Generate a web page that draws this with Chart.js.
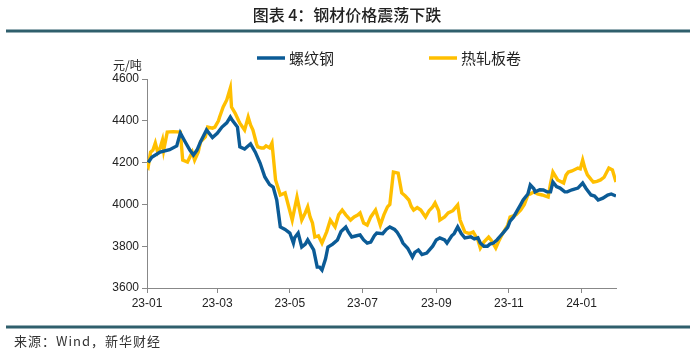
<!DOCTYPE html>
<html>
<head>
<meta charset="utf-8">
<script src="https://cdn.jsdelivr.net/npm/chart.js@4"></script>
<style>
    html, body { margin: 0; padding: 0; background: #fff; }
    .chart { position: relative; width: 694px; height: 354px; }
</style>
</head>
<body>
<div class="chart">
    <canvas id="myChart" width="694" height="354"></canvas>
</div>
<script>
    // x = days since 2023-01-01
    const tickDays = [0, 59, 120, 181, 243, 304, 365];
    const tickLabels = ['23-01', '23-03', '23-05', '23-07', '23-09', '23-11', '24-01'];

    const rebarDays = [1, 4, 11, 19, 25, 28, 32, 36, 39, 42, 45, 50, 55, 59, 63, 67, 70, 72, 76, 78,
        82, 87, 91, 95, 99, 103, 106, 109, 112, 116, 120, 123, 124, 127, 130, 133, 135, 140, 143, 145,
        147, 150, 152, 156, 160, 163, 167, 169, 172, 176, 179, 182, 185, 188, 191, 193, 198, 201, 204, 208,
        210, 213, 215, 219, 223, 225, 228, 231, 235, 240, 243, 246, 250, 252, 256, 258, 261, 264, 267, 272,
        275, 278, 280, 283, 286, 288, 291, 294, 297, 299, 303, 305, 308, 311, 314, 316, 320, 322, 325, 326,
        330, 333, 336, 339, 341, 344, 347, 351, 353, 357, 362, 366, 369, 373, 376, 379, 383, 387, 390, 394];
    const rebar = [4200, 4225, 4250, 4262, 4280, 4342, 4300, 4260, 4236, 4260, 4300, 4356, 4320, 4340, 4370, 4390, 4418, 4400, 4370, 4275,
        4265, 4290, 4250, 4198, 4131, 4095, 4083, 4021, 3892, 3880, 3863, 3815, 3840, 3863, 3796, 3810, 3830, 3782, 3700, 3700,
        3686, 3740, 3796, 3810, 3830, 3870, 3892, 3870, 3844, 3850, 3854, 3830, 3815, 3820, 3850, 3863, 3860, 3880, 3892, 3880,
        3868, 3840, 3815, 3790, 3748, 3770, 3782, 3760, 3767, 3800, 3830, 3840, 3830, 3815, 3850, 3860, 3892, 3860, 3840, 3845,
        3835, 3840, 3815, 3800, 3800, 3810, 3815, 3830, 3850, 3863, 3890, 3920, 3940, 3970, 4000, 4021, 4050, 4093, 4075, 4060,
        4070, 4069, 4060, 4060, 4107, 4085, 4078, 4060, 4060, 4070, 4078, 4102, 4075, 4045, 4040, 4021, 4030, 4045, 4050, 4040];

    const coilDays = [0, 1, 3, 5, 7, 9, 11, 13, 14, 17, 22, 28, 30, 34, 38, 40, 43, 45, 49, 51,
        55, 57, 60, 61, 64, 67, 70, 71, 74, 77, 78, 82, 85, 87, 89, 92, 93, 96, 98, 100,
        103, 105, 108, 112, 116, 119, 122, 126, 130, 133, 135, 137, 139, 141, 144, 147, 151, 154, 158, 161,
        164, 167, 171, 174, 177, 179, 182, 185, 188, 192, 196, 199, 202, 204, 207, 211, 214, 217, 220, 222,
        224, 227, 230, 234, 237, 240, 242, 245, 246, 250, 253, 257, 261, 263, 267, 271, 274, 278, 280, 283,
        287, 289, 293, 296, 299, 303, 305, 310, 314, 317, 320, 322, 325, 328, 332, 337, 339, 341, 345, 350,
        352, 354, 357, 362, 364, 366, 368, 370, 373, 375, 378, 381, 384, 388, 391, 394];
    const coil = [4188, 4180, 4250, 4260, 4294, 4250, 4270, 4308, 4260, 4346, 4348, 4346, 4212, 4203, 4250, 4212, 4250, 4300, 4323, 4370,
        4365, 4370, 4400, 4418, 4466, 4500, 4557, 4466, 4437, 4400, 4389, 4356, 4418, 4380, 4356, 4290, 4275, 4270, 4270, 4280,
        4270, 4294, 4117, 4045, 4055, 3990, 3925, 4035, 3925, 3960, 3988, 3940, 3911, 3844, 3850, 3815, 3870, 3925, 3892, 3950,
        3973, 3950, 3925, 3940, 3949, 3959, 3911, 3901, 3940, 3973, 3901, 3950, 3988, 4000, 4155, 4150, 4055, 4040, 4021, 3990,
        3973, 3985, 3973, 3940, 3970, 3988, 4007, 3970, 3925, 3940, 3959, 3970, 3997, 3925, 3868, 3860, 3868, 3830, 3791, 3820,
        3844, 3830, 3791, 3830, 3863, 3900, 3940, 3950, 3973, 4000, 4045, 4050, 4060, 4050, 4045, 4035, 4100, 4155, 4117, 4102,
        4140, 4155, 4160, 4174, 4170, 4212, 4170, 4141, 4120, 4107, 4110, 4117, 4130, 4174, 4165, 4107];

    const FONT = 'Arial, "Liberation Sans", "Noto Sans CJK SC", sans-serif';
    const CJK = '"Noto Sans CJK SC", sans-serif';

    // title, rules, legend, unit and source drawn around the plot
    const frame = {
        id: 'frame',
        afterDraw(chart) {
            const ctx = chart.ctx;
            const area = chart.chartArea;
            ctx.save();
            ctx.fillStyle = '#222';
            ctx.font = '500 16px ' + CJK;
            ctx.textAlign = 'center';
            ctx.textBaseline = 'middle';
            ctx.fillText('图表 4：钢材价格震荡下跌', 347, 15);

            ctx.strokeStyle = '#2f5f6c';
            ctx.lineWidth = 3;
            ctx.beginPath();
            ctx.moveTo(6, 31); ctx.lineTo(690, 31);
            ctx.moveTo(6, 327); ctx.lineTo(690, 327);
            ctx.stroke();

            ctx.textAlign = 'left';
            ctx.font = '13px ' + CJK;
            ctx.fillStyle = '#333';
            ctx.letterSpacing = '1px';
            ctx.fillText('来源：Wind，新华财经', 14, 341);
            ctx.letterSpacing = '0px';

            ctx.font = '12px ' + CJK;
            ctx.fillStyle = '#222';
            ctx.fillText('元/吨', area.left - 34, area.top - 14);

            // legend
            const legendX = [257, 429];
            ctx.font = '15px ' + CJK;
            chart.data.datasets.forEach((ds, i) => {
                const x = legendX[i];
                ctx.strokeStyle = ds.borderColor;
                ctx.lineWidth = 3.5;
                ctx.beginPath();
                ctx.moveTo(x, 58); ctx.lineTo(x + 28, 58);
                ctx.stroke();
                ctx.fillStyle = '#222';
                ctx.fillText(ds.label, x + 32, 58);
            });
            ctx.restore();
        }
    };

    const ctx = document.getElementById('myChart').getContext('2d');
    const myChart = new Chart(ctx, {
        type: 'line',
        data: {
            datasets: [
                {
                    label: '螺纹钢',
                    data: rebarDays.map((d, i) => ({ x: d, y: rebar[i] })),
                    borderColor: '#0b5b96',
                    borderWidth: 3.4,
                    pointRadius: 0,
                    tension: 0,
                    fill: false
                },
                {
                    label: '热轧板卷',
                    data: coilDays.map((d, i) => ({ x: d, y: coil[i] })),
                    borderColor: '#ffbf00',
                    borderWidth: 3.4,
                    pointRadius: 0,
                    tension: 0,
                    fill: false
                }
            ]
        },
        options: {
            responsive: false,
            animation: false,
            layout: { padding: { left: 0, right: 78, top: 79, bottom: 36 } },
            plugins: { legend: { display: false }, tooltip: { enabled: false } },
            scales: {
                x: {
                    type: 'linear',
                    min: 0,
                    max: 394,
                    afterFit(scale) { scale.height = 30; },
                    afterBuildTicks(scale) { scale.ticks = tickDays.map(v => ({ value: v })); },
                    ticks: {
                        autoSkip: false,
                        maxRotation: 0,
                        padding: 3,
                        color: '#222',
                        font: { size: 12, family: FONT },
                        callback: (v) => tickLabels[tickDays.indexOf(v)]
                    },
                    grid: { drawOnChartArea: false, drawTicks: true, tickLength: 5, color: '#888' },
                    border: { color: '#888', width: 1 }
                },
                y: {
                    min: 3600,
                    max: 4600,
                    afterFit(scale) { scale.width = 147; },
                    ticks: {
                        stepSize: 200,
                        padding: 3,
                        color: '#222',
                        font: { size: 12, family: FONT },
                        callback: (v) => String(v)
                    },
                    grid: { drawOnChartArea: false, drawTicks: true, tickLength: 5, color: '#888' },
                    border: { color: '#888', width: 1 }
                }
            }
        },
        plugins: [frame]
    });
</script>
</body>
</html>
